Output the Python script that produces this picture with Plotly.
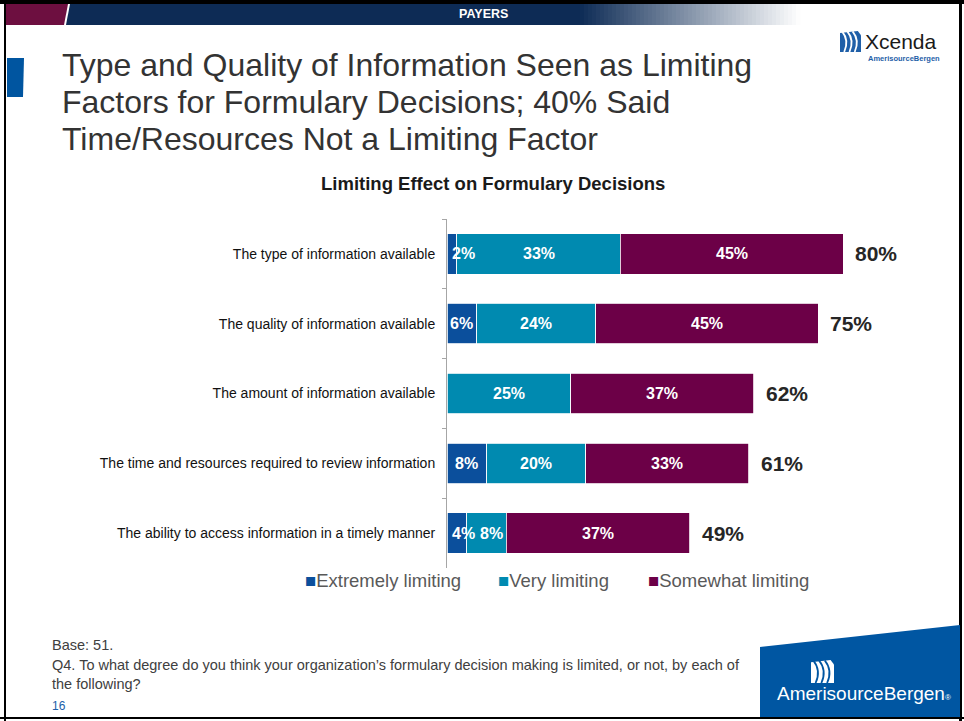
import plotly.graph_objects as go

# ---- data ----
categories = [
    "The type of information available",
    "The quality of information available",
    "The amount of information available",
    "The time and resources required to review information",
    "The ability to access information in a timely manner",
]
extremely = [2, 6, 0, 8, 4]
very = [33, 24, 25, 20, 8]
somewhat = [45, 45, 37, 33, 37]
series_names = ["Extremely limiting", "Very limiting", "Somewhat limiting"]
series_colors = ["#0B4F9C", "#008AB0", "#6C0047"]

totals = [e + v + s for e, v, s in zip(extremely, very, somewhat)]

W, H = 964, 721
FONT = "Arial, Liberation Sans, sans-serif"


def px(x):
    return x / W


def py(y):
    return 1 - y / H


fig = go.Figure()
annotations = []

series = [extremely, very, somewhat]
starts = [0] * len(categories)
for k, (name, vals, color) in enumerate(zip(series_names, series, series_colors)):
    fig.add_trace(go.Bar(
        y=categories, x=vals, name=name, orientation="h",
        marker=dict(color=color, line=dict(color="white", width=0.8)),
        width=0.58, showlegend=False, hoverinfo="skip",
    ))
    # segment value labels, drawn above all bars
    for i, (cat, v) in enumerate(zip(categories, vals)):
        if v > 0:
            if v < 5:
                # too narrow: start the label at the segment's left edge
                x, anchor, shift = starts[i], "left", 3
            elif k > 0 and v < 10:
                # short inner segment: keep the label against its right edge
                x, anchor, shift = starts[i] + v, "right", -1
            else:
                x, anchor, shift = starts[i] + v / 2, "center", 0
            annotations.append(dict(
                x=x, y=cat, xref="x", yref="y", text=f"{v}%", showarrow=False,
                xanchor=anchor, yanchor="middle", xshift=shift,
                font=dict(family=FONT, size=16, color="white", weight="bold"),
            ))
        starts[i] += v

# totals at the end of each stacked bar
for cat, t in zip(categories, totals):
    annotations.append(dict(
        x=t, y=cat, xref="x", yref="y", text=f"{t}%", showarrow=False,
        xanchor="left", yanchor="middle", xshift=10,
        font=dict(family=FONT, size=21, color="#262626", weight="bold"),
    ))

# legend row
legend_x = [305, 498, 648]
for lx, name, color in zip(legend_x, series_names, series_colors):
    annotations.append(dict(
        x=px(lx - 2), y=py(580), xref="paper", yref="paper", showarrow=False,
        xanchor="left", yanchor="middle",
        text=f"<span style='color:{color}'>■</span>{name}",
        font=dict(family=FONT, size=18.5, color="#595959"),
    ))

# slide title (three lines)
title_lines = [
    "Type and Quality of Information Seen as Limiting",
    "Factors for Formulary Decisions; 40% Said",
    "Time/Resources Not a Limiting Factor",
]
for i, line in enumerate(title_lines):
    annotations.append(dict(
        x=px(60), y=py(65 + 37 * i), xref="paper", yref="paper", showarrow=False,
        xanchor="left", yanchor="middle", text=line,
        font=dict(family=FONT, size=32, color="#333333"),
    ))

# chart title
annotations.append(dict(
    x=px(493), y=py(183), xref="paper", yref="paper", showarrow=False,
    xanchor="center", yanchor="middle", text="Limiting Effect on Formulary Decisions",
    font=dict(family=FONT, size=18.5, color="#1a1a1a", weight="bold"),
))

# header banner label
annotations.append(dict(
    x=px(483), y=py(14), xref="paper", yref="paper", showarrow=False,
    xanchor="center", yanchor="middle", text="PAYERS",
    font=dict(family=FONT, size=12.5, color="white", weight="bold"),
))

# footnotes
foot = [
    "Base: 51.",
    "Q4. To what degree do you think your organization\u2019s formulary decision making is limited, or not, by each of",
    "the following?",
]
for i, line in enumerate(foot):
    annotations.append(dict(
        x=px(50), y=py(645 + 19.5 * i), xref="paper", yref="paper", showarrow=False,
        xanchor="left", yanchor="middle", text=line,
        font=dict(family=FONT, size=14.5, color="#404040"),
    ))
annotations.append(dict(
    x=px(50), y=py(706), xref="paper", yref="paper", showarrow=False,
    xanchor="left", yanchor="middle", text="16",
    font=dict(family=FONT, size=12, color="#2060A8"),
))

# logos text
annotations.append(dict(
    x=px(863), y=py(42), xref="paper", yref="paper", showarrow=False,
    xanchor="left", yanchor="middle", text="Xcenda",
    font=dict(family=FONT, size=21, color="#1a1a1a"),
))
annotations.append(dict(
    x=px(866), y=py(59), xref="paper", yref="paper", showarrow=False,
    xanchor="left", yanchor="middle", text="AmerisourceBergen",
    font=dict(family=FONT, size=7.5, color="#1F5FA8", weight="bold"),
))
annotations.append(dict(
    x=px(864), y=py(693), xref="paper", yref="paper", showarrow=False,
    xanchor="center", yanchor="middle",
    text="AmerisourceBergen<span style='font-size:8px'>®</span>",
    font=dict(family=FONT, size=19, color="white"),
))

shapes = []


def rect(x0, y0, x1, y1, color):
    shapes.append(dict(type="rect", xref="paper", yref="paper",
                       x0=px(x0), x1=px(x1), y0=py(y1), y1=py(y0),
                       fillcolor=color, line=dict(width=0), layer="below"))


def poly(points, color, layer="below"):
    path = "M " + " L ".join(f"{px(x)},{py(y)}" for x, y in points) + " Z"
    shapes.append(dict(type="path", xref="paper", yref="paper", path=path,
                       fillcolor=color, line=dict(width=0), layer=layer))


# banner: maroon tab, navy bar fading to white
poly([(5, 4), (68, 4), (64, 25), (5, 25)], "#6D0F40")
poly([(70, 4), (580, 4), (580, 25), (66, 25)], "#0D2B55")
steps = 55
c0 = (13, 43, 85)
for i in range(steps):
    f = (i + 0.5) / steps
    c = tuple(round(a + (255 - a) * f) for a in c0)
    x0 = 580 + i * (220 / steps)
    rect(x0, 4, x0 + 220 / steps + 0.5, 25, f"rgb{c}")

# slide frame
rect(0, 0, W, 4, "#000000")
rect(4, 0, 6, H, "#000000")
rect(959, 0, 962, H, "#000000")
rect(0, 717, W, 719, "#000000")

# left accent tab
poly([(7, 58), (24, 58), (23, 97), (7, 97)], "#0055A0")

# bottom-right brand block
poly([(760, 647), (960, 625), (960, 717), (760, 717)], "#0056A2")


def wave_icon(x, y, s, fg, gap):
    # stylised wave mark: a filled block cut by curved strokes
    poly([(x, y + s * 0.1), (x + s * 0.85, y), (x + s, y + s * 0.2),
          (x + s, y + s), (x, y + s)], fg, layer="above")
    for k in range(3):
        ox = x + s * (0.2 + 0.25 * k)
        path = (f"M {px(ox)},{py(y + s)} Q {px(ox + s * 0.25)},{py(y + s * 0.45)} "
                f"{px(ox - s * 0.1)},{py(y + s * 0.02)}")
        shapes.append(dict(type="path", xref="paper", yref="paper", path=path,
                           line=dict(color=gap, width=1.8), layer="above"))


wave_icon(840, 31, 21, "#1F5FA8", "white")
wave_icon(811, 660, 23, "white", "#0056A2")

fig.update_layout(
    width=W, height=H,
    margin=dict(l=0, r=0, t=0, b=0),
    paper_bgcolor="white", plot_bgcolor="white",
    barmode="stack",
    showlegend=False,
    xaxis=dict(domain=[px(447), px(942)], range=[0, 100], visible=False, fixedrange=True),
    yaxis=dict(
        domain=[py(568), py(219)],
        categoryorder="array", categoryarray=categories, autorange="reversed",
        showline=True, linecolor="#A6A6A6", linewidth=1,
        ticks="outside", tickson="boundaries", ticklen=4, tickcolor="#A6A6A6",
        ticklabelstandoff=8,
        tickfont=dict(family=FONT, size=14, color="#111111"),
        showgrid=False, zeroline=False,
    ),
    annotations=annotations,
    shapes=shapes,
)

fig.write_html("out.html")
